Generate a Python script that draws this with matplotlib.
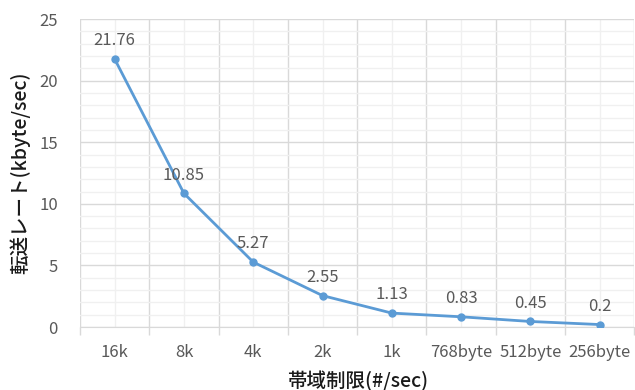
import matplotlib
matplotlib.use("Agg")
import matplotlib.pyplot as plt
from matplotlib.ticker import MultipleLocator, FixedLocator
import numpy as np

plt.rcParams['font.family'] = ['Noto Sans CJK JP', 'DejaVu Sans']

# Transfer rate for each bandwidth limit
categories = ['16k', '8k', '4k', '2k', '1k', '768byte', '512byte', '256byte']
rates = [21.76, 10.85, 5.27, 2.55, 1.13, 0.83, 0.45, 0.2]

line_color = '#5B9BD5'
text_color = '#595959'

fig = plt.figure(figsize=(6.35, 3.9), dpi=100)
ax = fig.add_axes([0.126, 0.1615, 0.873, 0.7895])

x = np.arange(len(categories))
ax.plot(x, rates, color=line_color, lw=2, marker='o', ms=5, zorder=3)

for xi, v in zip(x, rates):
    ax.annotate(f'{v:g}', (xi, v), xytext=(0, 7), textcoords='offset points',
                ha='center', va='bottom', fontsize=12, color=text_color)

ax.set_xlim(-0.5, len(categories) - 0.5)
ax.set_ylim(0, 25)

# category labels at centers, tick marks on the boundaries
ax.set_xticks(x)
ax.set_xticklabels(categories)
ax.xaxis.set_minor_locator(FixedLocator(np.arange(-0.5, len(categories), 1)))
ax.tick_params(axis='x', which='major', length=0, pad=12, labelsize=12, labelcolor=text_color)
ax.tick_params(axis='x', which='minor', length=6, color='#d9d9d9', width=1)

ax.yaxis.set_major_locator(MultipleLocator(5))
ax.yaxis.set_minor_locator(MultipleLocator(1))
ax.tick_params(axis='y', which='both', length=0, pad=16, labelsize=12, labelcolor=text_color)

# gridlines
ax.grid(True, which='major', axis='y', color='#d9d9d9', lw=1)
ax.grid(True, which='minor', axis='y', color='#f0f0f0', lw=1)
ax.grid(True, which='minor', axis='x', color='#d9d9d9', lw=1)
ax.grid(True, which='major', axis='x', color='#f0f0f0', lw=1)
ax.set_axisbelow(True)

for side in ['top', 'right', 'left']:
    ax.spines[side].set_visible(False)
ax.spines['bottom'].set_color('#d9d9d9')

ax.set_ylabel('転送レート(kbyte/sec)', fontsize=14, fontweight='medium', color='#1a1a1a', labelpad=6)
ax.set_xlabel('帯域制限(#/sec)', fontsize=14, fontweight='medium', color='#1a1a1a', labelpad=7)

fig.savefig('out.png', dpi=100)
